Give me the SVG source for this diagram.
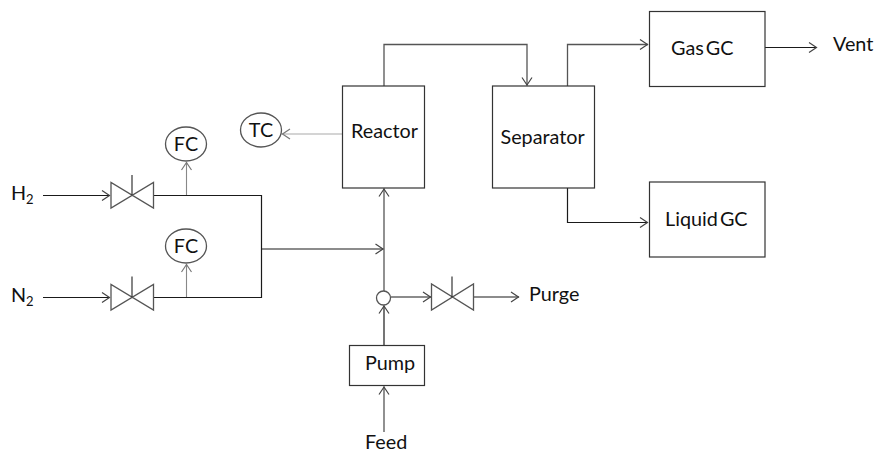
<svg xmlns="http://www.w3.org/2000/svg" width="877" height="452" viewBox="0 0 877 452">
<defs>
<marker id="a" markerUnits="userSpaceOnUse" markerWidth="12" markerHeight="14" refX="9" refY="6" orient="auto" overflow="visible"><path d="M1 1 L8.500 6 L1 11" fill="none" stroke="#444" stroke-width="1.2"/></marker>
<marker id="g" markerUnits="userSpaceOnUse" markerWidth="12" markerHeight="14" refX="9" refY="6" orient="auto" overflow="visible"><path d="M1 1 L8.500 6 L1 11" fill="none" stroke="#777" stroke-width="1.2"/></marker>
</defs>
<style>
.b{fill:#fff;stroke:#333;stroke-width:1.2}
.v{fill:#fff;stroke:#555;stroke-width:1.3}
.s{stroke:#222;stroke-width:1.1;fill:none}
.l{fill:none;stroke:#1a1a1a;stroke-width:1.2}
.m{fill:none;stroke:#555;stroke-width:1.3}
.h{fill:none;stroke:#888;stroke-width:1.1}
.q{fill:none;stroke:#aaa;stroke-width:1.2}
text{font-family:Lato,"Liberation Sans",sans-serif;font-size:19.800px;fill:#111;word-spacing:-3px}
.u{font-size:13px}
</style>
<rect width="877" height="452" fill="#fff"/>
<g id="connectors">
<path class="l" d="M43 195.500H110" marker-end="url(#a)"/>
<path class="l" d="M43 297.500H110" marker-end="url(#a)"/>
<path class="l" d="M153 195.500H261.500V297.500H153"/>
<path class="l" d="M261.500 249H383.500" marker-end="url(#a)"/>
<path class="h" d="M186.500 195V162" marker-end="url(#g)"/>
<path class="h" d="M186.500 297V264" marker-end="url(#g)"/>
<path class="m" d="M384 291V188.500" marker-end="url(#a)"/>
<path class="l" d="M384 345V305.500" marker-end="url(#a)"/>
<path class="m" d="M384 432V386.500" marker-end="url(#a)"/>
<path class="l" d="M391 297H431" marker-end="url(#a)"/>
<path class="l" d="M473 297H519" marker-end="url(#a)"/>
<path class="q" d="M342 134H282" marker-end="url(#g)"/>
<path class="m" d="M384 86V44.500H527V85.500" marker-end="url(#a)"/>
<path class="m" d="M567.500 86V44.500H648" marker-end="url(#a)"/>
<path class="l" d="M567.500 188V222.500H648" marker-end="url(#a)"/>
<path class="l" d="M765 47.500H817" marker-end="url(#a)"/>
</g>
<g id="h2-label"><text x="11" y="199.500">H<tspan class="u" dy="4">2</tspan></text></g>
<g id="n2-label"><text x="11" y="301.500">N<tspan class="u" dy="4">2</tspan></text></g>
<g id="valve-h2"><path class="v" d="M111 182.500V208L153.500 182.500V208Z"/><path class="s" d="M132 175V195"/></g>
<g id="valve-n2"><path class="v" d="M111 284.500V310L153.500 284.500V310Z"/><path class="s" d="M132 276.500V297"/></g>
<g id="valve-purge"><path class="v" d="M431.500 284V310L473.500 284V310Z"/><path class="s" d="M452 276.500V297"/></g>
<g id="fc-h2"><ellipse class="v" cx="186" cy="144" rx="20.500" ry="17"/><text x="186" y="150.500" text-anchor="middle">FC</text></g>
<g id="fc-n2"><ellipse class="v" cx="186" cy="246" rx="20.500" ry="17"/><text x="186" y="252.500" text-anchor="middle">FC</text></g>
<g id="tc"><ellipse class="v" cx="261" cy="130" rx="20.500" ry="17"/><text x="261" y="136.500" text-anchor="middle">TC</text></g>
<g id="reactor"><rect class="b" x="342.500" y="86" width="82" height="102"/><text x="351" y="137.500">Reactor</text></g>
<g id="separator"><rect class="b" x="492.500" y="86" width="102" height="102"/><text x="500.500" y="143.500">Separator</text></g>
<g id="gas-gc"><rect class="b" x="649.500" y="11.500" width="115.500" height="75"/><text x="671" y="55">Gas GC</text></g>
<g id="liquid-gc"><rect class="b" x="649.500" y="182" width="115.500" height="75"/><text x="665" y="225.500">Liquid GC</text></g>
<g id="pump"><rect class="b" x="349.500" y="345.500" width="75" height="40"/><text x="365" y="369.500">Pump</text></g>
<g id="mixer"><circle class="v" cx="383.500" cy="298" r="7"/></g>
<g id="vent-label"><text x="833" y="51">Vent</text></g>
<g id="purge-label"><text x="529" y="300.500">Purge</text></g>
<g id="feed-label"><text x="365" y="449">Feed</text></g>
</svg>
